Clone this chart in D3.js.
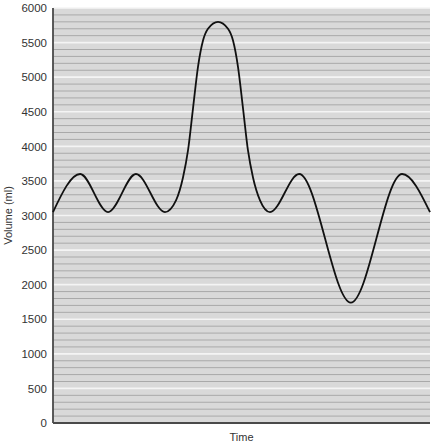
<!DOCTYPE html>
<html>
<head>
<meta charset="utf-8">
<script src="https://cdn.jsdelivr.net/npm/d3@7"></script>
<style>
  html, body { margin: 0; padding: 0; background: #fff; }
  svg { display: block; }
  text { font-family: "Liberation Sans", Arial, sans-serif; fill: #333; }
</style>
</head>
<body>
<svg id="chart" width="436" height="446"></svg>
<script>
// Data: time (arbitrary units) and volume (ml)
const times   = [0, 7.2, 14.6, 22.0, 29.7,
                 32.63, 34.48, 35.81, 37.14, 38.46, 39.79, 41.11, 43.77,
                 46.42, 47.75, 49.07, 50.40, 51.72, 53.05, 54.91,
                 57.56, 65.3, 79.0, 92.6, 100];
const volumes = [3050, 3600, 3050, 3600, 3050,
                 3220, 3550, 3940, 4550, 5150, 5530, 5700, 5800,
                 5700, 5530, 5150, 4550, 3940, 3550, 3220,
                 3050, 3600, 1740, 3600, 3050];
const yTicks  = [0, 500, 1000, 1500, 2000, 2500, 3000, 3500, 4000, 4500, 5000, 5500, 6000];
const minorStep = 100;
const xLabel = "Time";
const yLabel = "Volume (ml)";

const svg = d3.select("#chart");
const mLeft = 53, mRight = 430, mTop = 8, mBottom = 423;

const x = d3.scaleLinear().domain([0, 100]).range([mLeft, mRight]);
const y = d3.scaleLinear().domain([0, 6000]).range([mBottom, mTop]);

// background
svg.append("rect")
  .attr("x", mLeft).attr("y", mTop)
  .attr("width", mRight - mLeft).attr("height", mBottom - mTop)
  .attr("fill", "#d9d9d9");

// minor grid lines
const minor = d3.range(minorStep, 6000 + 1, minorStep).filter(v => v % 500 !== 0);
svg.append("g").selectAll("line").data(minor).join("line")
  .attr("x1", mLeft).attr("x2", mRight)
  .attr("y1", d => y(d)).attr("y2", d => y(d))
  .attr("stroke", "#a9a9a9").attr("stroke-width", 1);

// major white lines
svg.append("g").selectAll("line").data(yTicks.filter(v => v > 0)).join("line")
  .attr("x1", mLeft).attr("x2", mRight)
  .attr("y1", d => y(d)).attr("y2", d => y(d))
  .attr("stroke", "#f4f4f4").attr("stroke-width", 1.6);

// y axis
const yAxis = d3.axisLeft(y).tickValues(yTicks).tickSize(0).tickPadding(6).tickFormat(d3.format("d"));
const gy = svg.append("g").attr("transform", `translate(${mLeft},0)`).call(yAxis);
gy.select(".domain").remove();
gy.selectAll("text").style("font-size", "11.5px").attr("fill", "#333")
  .style("font-family", "'Liberation Sans', Arial, sans-serif");

// x axis (no ticks)
const xAxis = d3.axisBottom(x).tickValues([]).tickSize(0);
const gx = svg.append("g").attr("transform", `translate(0,${mBottom})`).call(xAxis);
gx.select(".domain").remove();

// axis lines
svg.append("line").attr("x1", mLeft).attr("x2", mLeft).attr("y1", mTop).attr("y2", mBottom)
  .attr("stroke", "#4a4a4a").attr("stroke-width", 1.8);
svg.append("line").attr("x1", mLeft).attr("x2", mRight).attr("y1", mBottom).attr("y2", mBottom)
  .attr("stroke", "#4a4a4a").attr("stroke-width", 1.8);

// trace
const data = times.map((t, i) => ({ t, v: volumes[i] }));
const line = d3.line().x(d => x(d.t)).y(d => y(d.v)).curve(d3.curveMonotoneX);
svg.append("path").datum(data)
  .attr("d", line)
  .attr("fill", "none")
  .attr("stroke", "#111")
  .attr("stroke-width", 1.8);

// labels
svg.append("text")
  .attr("x", (mLeft + mRight) / 2).attr("y", 441)
  .attr("text-anchor", "middle")
  .style("font-size", "11px")
  .text(xLabel);

svg.append("text")
  .attr("transform", `translate(12,${(mTop + mBottom) / 2}) rotate(-90)`)
  .attr("text-anchor", "middle")
  .style("font-size", "11px")
  .text(yLabel);
</script>
</body>
</html>
